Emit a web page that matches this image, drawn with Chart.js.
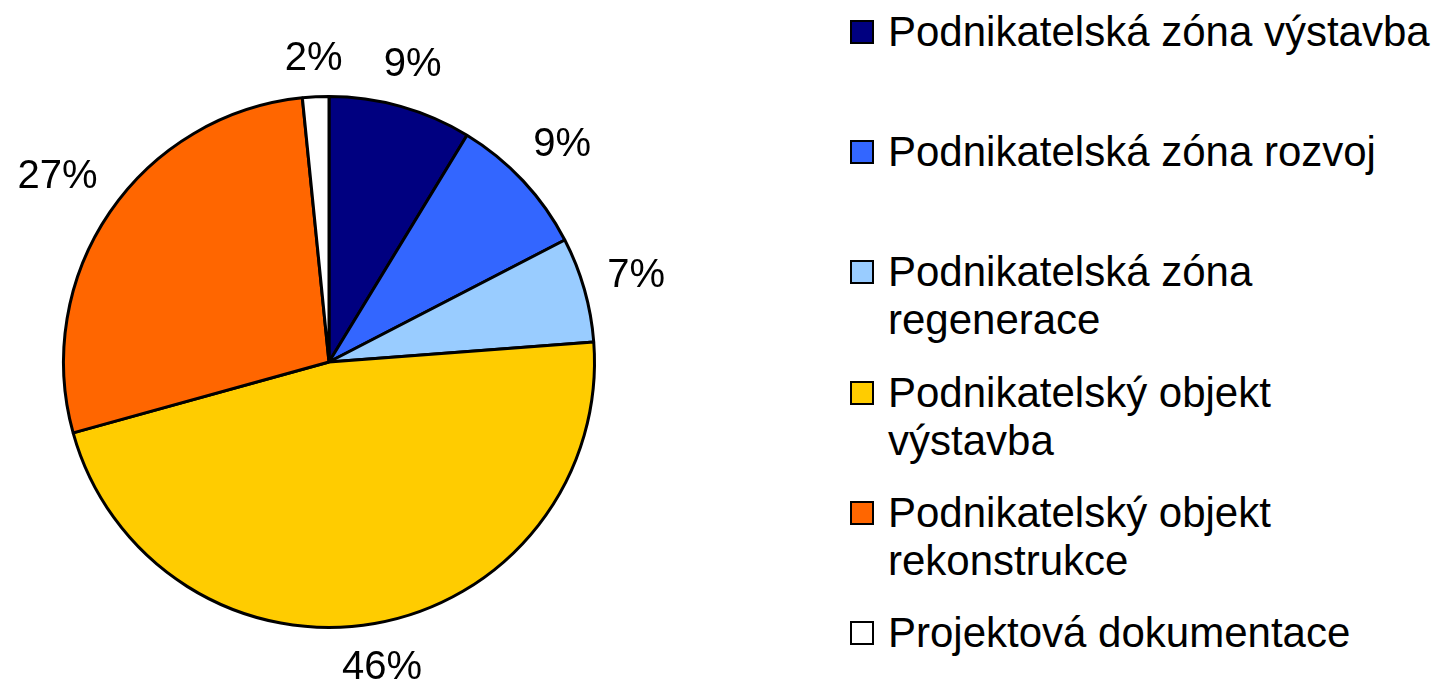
<!DOCTYPE html>
<html>
<head>
<meta charset="utf-8">
<script src="https://cdn.jsdelivr.net/npm/chart.js@4.4.1/dist/chart.umd.min.js"></script>
<style>
  html, body { margin: 0; padding: 0; background: #fff; }
  body { width: 1438px; height: 681px; position: relative; overflow: hidden;
         font-family: "Liberation Sans", Arial, sans-serif; }
  #pieWrap { position: absolute; left: 0; top: 0; width: 780px; height: 681px; }
  #legend { position: absolute; left: 850px; top: 8px; }
  .lg-item { position: absolute; left: 0; display: flex; align-items: flex-start; white-space: nowrap; }
  .lg-box { width: 20px; height: 20px; border: 2px solid #000; margin-top: 12px; margin-right: 14px; flex: none; }
  .lg-text { font-size: 42px; line-height: 48px; color: #000; }
</style>
</head>
<body>
<div id="pieWrap"><canvas id="pie"></canvas></div>
<div id="legend"></div>
<script>
// ── data ──
const categories = [
  'Podnikatelská zóna výstavba',
  'Podnikatelská zóna rozvoj',
  ['Podnikatelská zóna', 'regenerace'],
  ['Podnikatelský objekt', 'výstavba'],
  ['Podnikatelský objekt', 'rekonstrukce'],
  'Projektová dokumentace'
];
const shares = [8.7, 8.7, 6.4, 46.9, 27.7, 1.6];          // slice sizes (%)
const percentLabels = ['9%', '9%', '7%', '46%', '27%', '2%']; // labels as printed
const sliceColors = ['#000080', '#3366FF', '#99CCFF', '#FFCC00', '#FF6600', '#FFFFFF'];

// 바깥쪽 퍼센트 라벨
const outsideLabels = {
  id: 'outsideLabels',
  afterDatasetsDraw(chart) {
    const ctx = chart.ctx;
    const meta = chart.getDatasetMeta(0);
    ctx.save();
    ctx.font = '40px "Liberation Sans", Arial, sans-serif';
    ctx.fillStyle = '#000';
    ctx.textAlign = 'center';
    ctx.textBaseline = 'middle';
    meta.data.forEach((arc, i) => {
      const p = arc.getProps(['x', 'y', 'startAngle', 'endAngle', 'outerRadius'], true);
      const mid = (p.startAngle + p.endAngle) / 2;
      const ux = Math.cos(mid), uy = Math.sin(mid);
      const w = ctx.measureText(percentLabels[i]).width;
      const h = 30;
      const d = p.outerRadius + 22 + (w / 2) * Math.abs(ux) + (h / 2) * Math.abs(uy);
      ctx.fillText(percentLabels[i], p.x + ux * d, p.y + uy * d + 1);
    });
    ctx.restore();
  }
};

new Chart(document.getElementById('pie'), {
  type: 'pie',
  data: {
    labels: categories,
    datasets: [{
      data: shares,
      backgroundColor: sliceColors,
      borderColor: '#000',
      borderWidth: 3
    }]
  },
  options: {
    responsive: true,
    maintainAspectRatio: false,
    animation: false,
    events: [],
    layout: { padding: { top: 95, bottom: 52, left: 62, right: 184 } },
    plugins: {
      legend: { display: false },
      tooltip: { enabled: false }
    }
  },
  plugins: [outsideLabels]
});

// HTML 범례 (여러 줄 라벨)
const legendEl = document.getElementById('legend');
categories.forEach((cat, i) => {
  const item = document.createElement('div');
  item.className = 'lg-item';
  item.style.top = (i * 120.2) + 'px';
  const box = document.createElement('div');
  box.className = 'lg-box';
  box.style.background = sliceColors[i];
  const txt = document.createElement('div');
  txt.className = 'lg-text';
  const lines = Array.isArray(cat) ? cat : [cat];
  lines.forEach((ln, j) => {
    if (j) txt.appendChild(document.createElement('br'));
    txt.appendChild(document.createTextNode(ln));
  });
  item.appendChild(box);
  item.appendChild(txt);
  legendEl.appendChild(item);
});
</script>
</body>
</html>
